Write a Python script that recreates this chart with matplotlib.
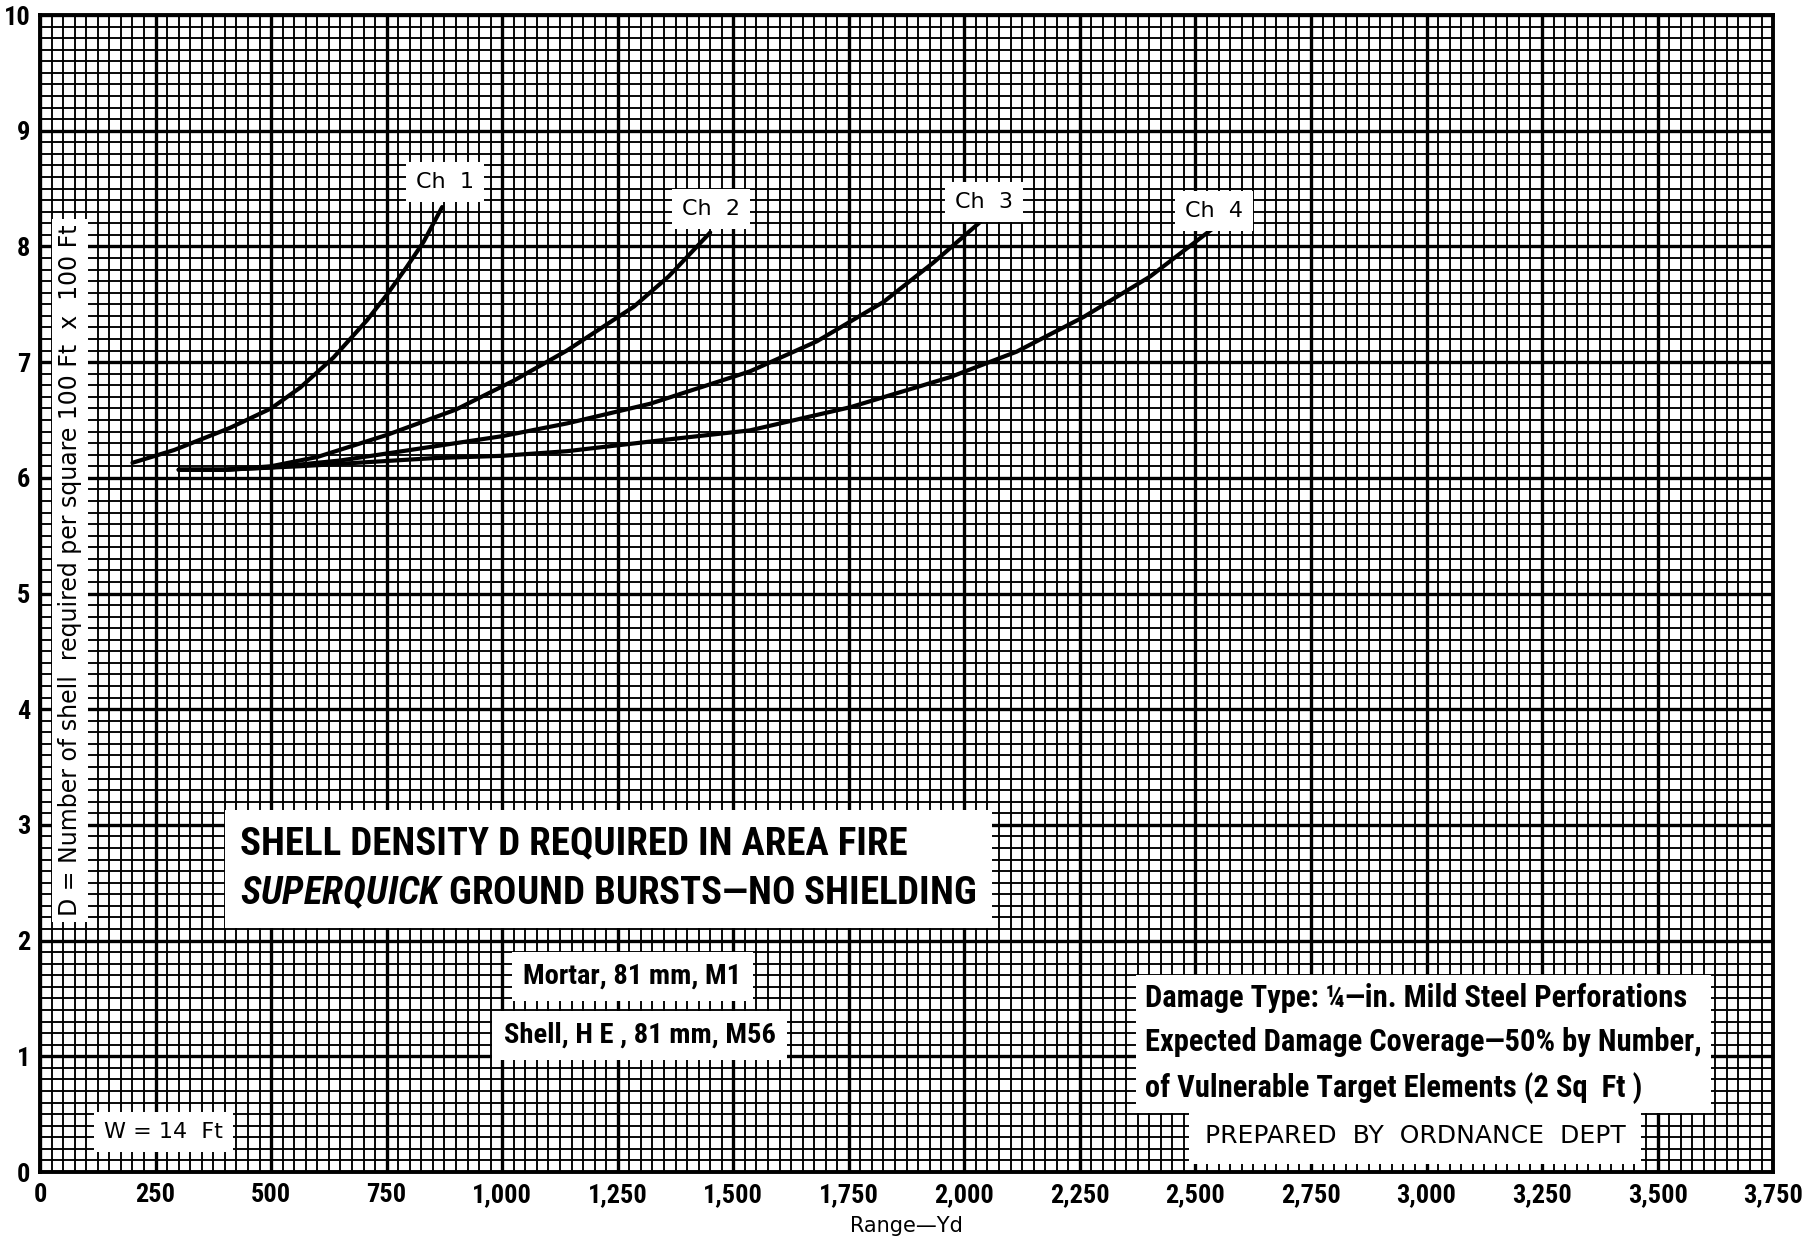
import matplotlib
matplotlib.use('Agg')
import matplotlib.pyplot as plt
from matplotlib.ticker import MultipleLocator

narrow = ['Roboto Condensed', 'Liberation Sans Narrow', 'Roboto', 'DejaVu Sans']
plain = ['DejaVu Sans']

plt.rcParams['mathtext.fontset'] = 'custom'
plt.rcParams['mathtext.it'] = 'Roboto Condensed:italic:bold'
plt.rcParams['mathtext.rm'] = 'Roboto Condensed:bold'
plt.rcParams['mathtext.bf'] = 'Roboto Condensed:bold'

# range in yards vs. shell density D, one curve per charge
ch1_x = [200, 290, 410, 500, 563, 635, 707, 750, 793, 830, 870]
ch1_y = [6.13, 6.24, 6.43, 6.60, 6.78, 7.04, 7.36, 7.58, 7.82, 8.04, 8.34]

ch2_x = [300, 400, 500, 600, 750, 900, 1025, 1140, 1285, 1360, 1450]
ch2_y = [6.07, 6.07, 6.10, 6.18, 6.37, 6.59, 6.84, 7.10, 7.48, 7.74, 8.12]

ch3_x = [300, 400, 500, 650, 850, 1000, 1140, 1320, 1536, 1681, 1825, 1933, 2034]
ch3_y = [6.07, 6.07, 6.09, 6.15, 6.27, 6.36, 6.47, 6.64, 6.92, 7.18, 7.52, 7.86, 8.21]

ch4_x = [300, 400, 563, 851, 1000, 1140, 1356, 1536, 1753, 1969, 2113, 2258, 2402, 2474, 2546]
ch4_y = [6.07, 6.07, 6.10, 6.17, 6.19, 6.23, 6.33, 6.41, 6.61, 6.87, 7.09, 7.39, 7.74, 7.96, 8.18]

curves = [(ch1_x, ch1_y), (ch2_x, ch2_y), (ch3_x, ch3_y), (ch4_x, ch4_y)]
charge_labels = ['Ch  1', 'Ch  2', 'Ch  3', 'Ch  4']
label_pos = [(876, 8.56), (1452, 8.32), (2043, 8.38), (2540, 8.31)]

x_ticks = list(range(0, 3751, 250))
x_labels = ['0', '250', '500', '750', '1,000', '1,250', '1,500', '1,750', '2,000',
            '2,250', '2,500', '2,750', '3,000', '3,250', '3,500', '3,750']
y_ticks = list(range(0, 11))
y_labels = [str(v) for v in y_ticks]

fig = plt.figure(figsize=(18.13, 12.41), dpi=100)
ax = fig.add_axes([0.0221, 0.0556, 0.9559, 0.9323])
ax.set_xlim(0, 3750)
ax.set_ylim(0, 10)

# graph-paper grid: fine lines every 25 yd / 0.1, heavy every 250 yd / 1
ax.xaxis.set_minor_locator(MultipleLocator(25))
ax.yaxis.set_minor_locator(MultipleLocator(0.1))
ax.set_xticks(x_ticks, labels=x_labels)
ax.set_yticks(y_ticks, labels=y_labels)
ax.set_axisbelow(True)
ax.grid(which='major', color='black', lw=2.4)
ax.grid(which='minor', color='black', lw=1.35)
ax.tick_params(which='both', length=0)
ax.tick_params(axis='x', pad=8)
ax.tick_params(axis='y', pad=7)
for lab in ax.get_xticklabels() + ax.get_yticklabels():
    lab.set_family(narrow)
    lab.set_fontweight('bold')
    lab.set_fontstretch('condensed')
    lab.set_fontsize(19)
for sp in ax.spines.values():
    sp.set_linewidth(2.8)

for (xs, ys) in curves:
    ax.plot(xs, ys, color='black', lw=3.0, solid_capstyle='round',
            solid_joinstyle='round', zorder=3)

box = dict(boxstyle='square,pad=0.45', fc='white', ec='none')

for name, (lx, ly) in zip(charge_labels, label_pos):
    ax.text(lx, ly, name, family=plain, fontsize=16, ha='center', va='center',
            bbox=box, zorder=4)

fig.text(0.5, 1 - 1226 / 1241, 'Range\u2014Yd', family=plain, fontsize=15,
         ha='center', va='center')

ax.text(65, 5.2, 'D = Number of shell  required per square 100 Ft  x  100 Ft',
        family=plain, fontsize=17, rotation=90, ha='center', va='center',
        bbox=dict(boxstyle='square,pad=0.25', fc='white', ec='none'), zorder=4)

ax.text(433, 2.62,
        'SHELL DENSITY D REQUIRED IN AREA FIRE\n'
        '$\\mathit{SUPERQUICK}$ GROUND BURSTS\u2014NO SHIELDING',
        family=narrow, fontweight='bold', fontstretch='condensed', fontsize=28,
        ha='left', va='center', linespacing=1.42,
        bbox=dict(boxstyle='square,pad=0.4', fc='white', ec='none'), zorder=4)

ax.text(1281, 1.69, 'Mortar, 81 mm, M1', family=narrow, fontweight='bold',
        fontstretch='condensed', fontsize=20.5, ha='center', va='center',
        bbox=dict(boxstyle='square,pad=0.4', fc='white', ec='none'), zorder=4)
ax.text(1297, 1.18, 'Shell, H E , 81 mm, M56', family=narrow, fontweight='bold',
        fontstretch='condensed', fontsize=20.5, ha='center', va='center',
        bbox=dict(boxstyle='square,pad=0.4', fc='white', ec='none'), zorder=4)

ax.text(2391, 1.11,
        'Damage Type: \u00bc\u2014in. Mild Steel Perforations\n'
        'Expected Damage Coverage\u201450% by Number,\n'
        'of Vulnerable Target Elements (2 Sq  Ft )',
        family=narrow, fontweight='bold', fontstretch='condensed', fontsize=22,
        ha='left', va='center', linespacing=1.6,
        bbox=dict(boxstyle='square,pad=0.3', fc='white', ec='none'), zorder=4)

ax.text(2975, 0.31, 'PREPARED  BY  ORDNANCE  DEPT', family=plain, fontsize=18,
        ha='center', va='center',
        bbox=dict(boxstyle='square,pad=0.62', fc='white', ec='none'), zorder=4)

ax.text(268, 0.35, 'W = 14  Ft', family=plain, fontsize=16, ha='center', va='center',
        bbox=dict(boxstyle='square,pad=0.45', fc='white', ec='none'), zorder=4)

fig.savefig('out.png', dpi=100, facecolor='white')
